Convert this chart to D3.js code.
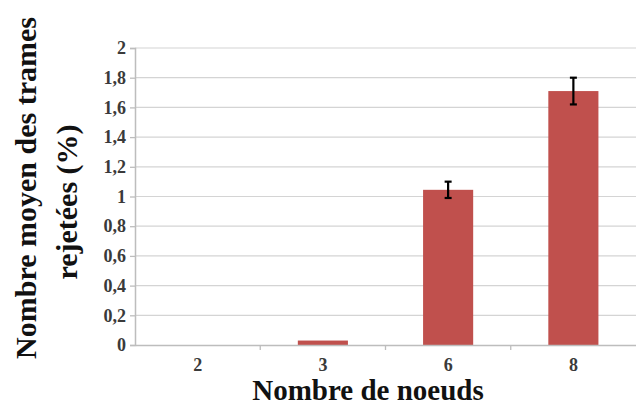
<!DOCTYPE html>
<html><head><meta charset="utf-8">
<script src="https://cdn.jsdelivr.net/npm/d3@7/dist/d3.min.js"></script>
<style>body{margin:0;background:#fff}svg{display:block}</style>
</head><body>
<svg id="c" width="636" height="408"></svg>
<script>
const categories = ["2", "3", "6", "8"];
const values = [0, 0.03, 1.045, 1.71];
const errors = [0, 0, 0.055, 0.09];
const yTicks = [0, 0.2, 0.4, 0.6, 0.8, 1, 1.2, 1.4, 1.6, 1.8, 2];
const xTitle = "Nombre de noeuds";
const yTitleLines = ["Nombre moyen des trames", "rejetées (%)"];

const svg = d3.select("#c");
const m = {l: 135, r: 0, t: 48, b: 63};
const W = 636, H = 408;
const x = d3.scaleBand().domain(categories).range([m.l, W - m.r]).paddingInner(0.6).paddingOuter(0.3);
const xb = d3.scaleBand().domain(categories).range([m.l, W - m.r]);
const y = d3.scaleLinear().domain([0, 2]).range([H - m.b, m.t]);
const font = "'Liberation Serif','Times New Roman',serif";

// grid
svg.append("g").selectAll("line").data(yTicks.filter(d => d > 0)).join("line")
  .attr("x1", m.l).attr("x2", W).attr("y1", d => y(d)).attr("y2", d => y(d))
  .attr("stroke", "#d4d4d4").attr("stroke-width", 1.2);

// y axis
const ya = svg.append("g").attr("transform", `translate(${m.l},0)`)
  .call(d3.axisLeft(y).tickValues(yTicks).tickSize(5).tickPadding(4)
    .tickFormat(d => d3.format("")(d).replace(".", ",")));
ya.attr("font-family", font);
ya.select(".domain").attr("stroke", "#bdbdbd").attr("stroke-width", 1.5);
ya.selectAll(".tick line").attr("stroke", "#bdbdbd").attr("stroke-width", 1.3);
ya.selectAll("text").style("font-family", font).attr("font-size", 18).attr("font-weight", "bold").attr("fill", "#3a3a3a");

// bars
svg.append("g").selectAll("rect").data(categories).join("rect")
  .attr("x", d => x(d)).attr("width", x.bandwidth())
  .attr("y", (d, i) => y(values[i])).attr("height", (d, i) => y(0) - y(values[i]))
  .attr("fill", "#c0504d");

// x axis
const xa = svg.append("g").attr("transform", `translate(0,${y(0)})`)
  .call(d3.axisBottom(xb).tickSize(0).tickPadding(13));
xa.attr("font-family", font);
xa.select(".domain").attr("stroke", "#bdbdbd").attr("stroke-width", 1.5);
xa.selectAll("text").style("font-family", font).attr("font-size", 18).attr("font-weight", "bold").attr("fill", "#3a3a3a");
svg.append("g").selectAll("line").data(categories.slice(1)).join("line")
  .attr("x1", d => xb(d)).attr("x2", d => xb(d)).attr("y1", y(0)).attr("y2", y(0) + 5)
  .attr("stroke", "#bdbdbd").attr("stroke-width", 1.3);

// error bars
const eb = svg.append("g").selectAll("g").data(categories.map((c, i) => ({c, v: values[i], e: errors[i]})).filter(d => d.e > 0)).join("g")
  .attr("stroke", "#000").attr("stroke-width", 2.2);
eb.append("line").attr("x1", d => x(d.c) + x.bandwidth() / 2).attr("x2", d => x(d.c) + x.bandwidth() / 2)
  .attr("y1", d => y(d.v + d.e)).attr("y2", d => y(d.v - d.e));
eb.append("line").attr("x1", d => x(d.c) + x.bandwidth() / 2 - 3.5).attr("x2", d => x(d.c) + x.bandwidth() / 2 + 3.5)
  .attr("y1", d => y(d.v + d.e)).attr("y2", d => y(d.v + d.e));
eb.append("line").attr("x1", d => x(d.c) + x.bandwidth() / 2 - 3.5).attr("x2", d => x(d.c) + x.bandwidth() / 2 + 3.5)
  .attr("y1", d => y(d.v - d.e)).attr("y2", d => y(d.v - d.e));

// titles
svg.append("text").attr("x", 368).attr("y", 400).attr("text-anchor", "middle")
  .attr("font-family", font).attr("font-size", 29).attr("font-weight", "bold").attr("fill", "#111")
  .text(xTitle);
const yt = svg.append("text").attr("transform", "translate(0,190) rotate(-90)")
  .attr("text-anchor", "middle").attr("font-family", font).attr("font-size", 30).attr("font-weight", "bold").attr("fill", "#111");
yt.selectAll("tspan").data(yTitleLines).join("tspan")
  .attr("x", (d, i) => i === 0 ? 2 : -12).attr("y", (d, i) => i === 0 ? 36 : 77).text(d => d);
</script>
</body></html>
